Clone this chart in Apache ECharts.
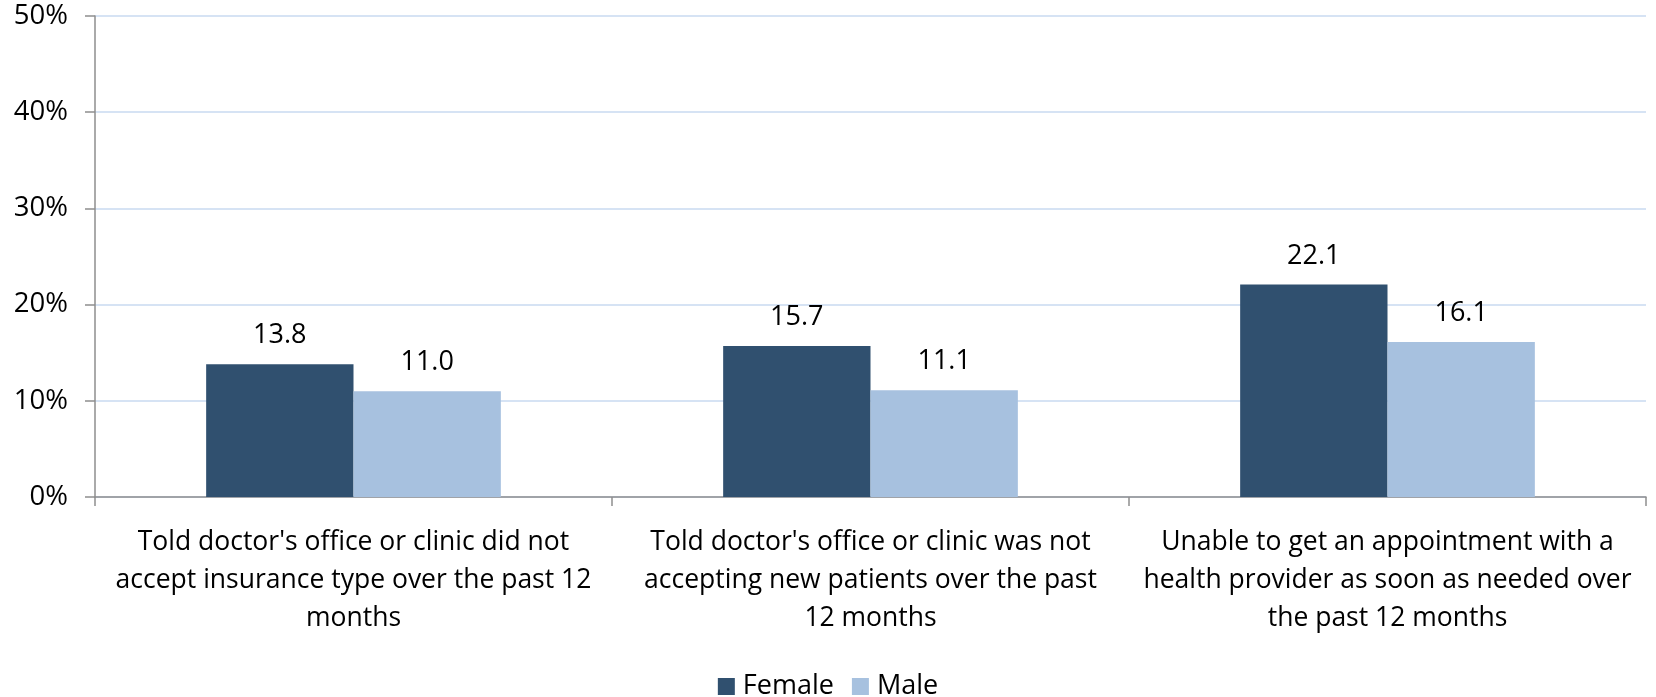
<!DOCTYPE html>
<html><head><meta charset="utf-8">
<script src="https://cdn.jsdelivr.net/npm/echarts@6/dist/echarts.min.js"></script>
<style>html,body{margin:0;padding:0;background:#fff}#c{width:1656px;height:697px}</style>
</head><body><div id="c"></div>
<script>
const categories = [
  "Told doctor's office or clinic did not\naccept insurance type over the past 12\nmonths",
  "Told doctor's office or clinic was not\naccepting new patients over the past\n12 months",
  "Unable to get an appointment with a\nhealth provider as soon as needed over\nthe past 12 months"
];
const female = [13.8, 15.7, 22.1];
const male = [11.0, 11.1, 16.1];
const FONT = "Open Sans";
const chart = echarts.init(document.getElementById('c'));
chart.setOption({
  animation: false,
  textStyle: {fontFamily: FONT},
  grid: {left: 95, right: 10, top: 16, bottom: 200, containLabel: false},
  legend: {
    top: 668, left: 'center', itemWidth: 17, itemHeight: 17, itemGap: 18,
    icon: 'rect',
    textStyle: {fontFamily: FONT, fontSize: 27, color: '#000', padding: [0, 0, 0, 3]},
    data: ['Female', 'Male']
  },
  xAxis: {
    type: 'category', data: categories,
    axisLine: {lineStyle: {color: '#8E8E8E', width: 1.5}},
    axisTick: {show: true, length: 9, lineStyle: {color: '#8E8E8E', width: 1.5}},
    axisLabel: {interval: 0, fontFamily: FONT, fontSize: 26.5, color: '#000', lineHeight: 38, margin: 26}
  },
  yAxis: {
    type: 'value', min: 0, max: 50, interval: 10,
    axisLine: {show: true, lineStyle: {color: '#8E8E8E', width: 1.5}},
    axisTick: {show: true, length: 10, lineStyle: {color: '#8E8E8E', width: 1.5}},
    axisLabel: {formatter: '{value}%', fontFamily: FONT, fontSize: 27.5, color: '#000', margin: 27},
    splitLine: {lineStyle: {color: '#C9DAF0', width: 1.5}}
  },
  series: [
    {name: 'Female', type: 'bar', data: female, barGap: '0%', barCategoryGap: '43%',
     itemStyle: {color: '#30506F'},
     label: {show: true, position: 'top', distance: 15, formatter: p => p.value.toFixed(1), fontFamily: FONT, fontSize: 27, color: '#000'}},
    {name: 'Male', type: 'bar', data: male, barGap: '0%', barCategoryGap: '43%',
     itemStyle: {color: '#A7C1DF'},
     label: {show: true, position: 'top', distance: 15, formatter: p => p.value.toFixed(1), fontFamily: FONT, fontSize: 27, color: '#000'}}
  ]
});
</script></body></html>
